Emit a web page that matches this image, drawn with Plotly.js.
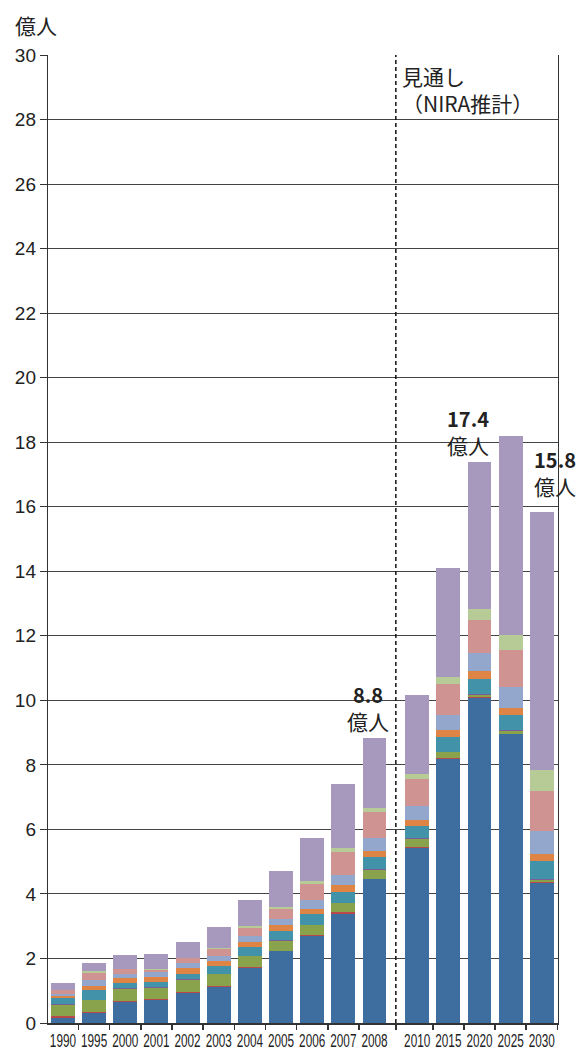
<!DOCTYPE html>
<html>
<head>
<meta charset="utf-8">
<script src="https://cdn.plot.ly/plotly-3.0.1.min.js"></script>
<style>html,body{margin:0;padding:0;background:#fff;}#chart{width:577px;height:1051px;}</style>
</head>
<body>
<div id="chart"></div>
<script>
// Categories (years); the first 11 are actuals, the rest are NIRA projections
const years = ['1990','1995','2000','2001','2002','2003','2004','2005','2006','2007','2008','2010','2015','2020','2025','2030'];
const projectionStart = 11;

// Series values (億人), bottom to top
const blue       = [0.17,0.32,0.65,0.70,0.94,1.13,1.70,2.22,2.71,3.39,4.45, 5.41,8.19,10.06,8.95,4.35];
const red        = [0.05,0.01,0.04,0.03,0.03,0.01,0.03,0.01,0.01,0.04,0.01, 0.03,0.03,0.04,0.01,0.03];
const green      = [0.35,0.38,0.35,0.37,0.35,0.37,0.34,0.31,0.31,0.28,0.28, 0.27,0.17,0.07,0.09,0.06];
const purple     = [0.01,0.01,0.03,0.03,0.03,0.01,0.01,0.03,0.01,0.01,0.03, 0.01,0.01,0.03,0.02,0.03];
const teal       = [0.19,0.30,0.18,0.15,0.17,0.25,0.27,0.28,0.34,0.34,0.37, 0.39,0.47,0.46,0.47,0.56];
const orange     = [0.08,0.135,0.15,0.15,0.17,0.16,0.15,0.18,0.16,0.21,0.19, 0.19,0.21,0.26,0.23,0.21];
const lightBlue  = [0.05,0.175,0.12,0.15,0.155,0.16,0.20,0.19,0.28,0.31,0.40, 0.43,0.47,0.55,0.64,0.72];
const pink       = [0.12,0.23,0.14,0.06,0.155,0.21,0.25,0.31,0.49,0.72,0.82, 0.84,0.95,1.02,1.15,1.23];
const lightGreen = [0.01,0.04,0.01,0.04,0.01,0.03,0.06,0.06,0.08,0.12,0.12, 0.15,0.22,0.34,0.46,0.65];
const lavender   = [0.22,0.245,0.43,0.47,0.50,0.65,0.80,1.12,1.35,2.00,2.17, 2.44,3.39,4.57,6.17,8.01];

// Total labels
const labelYears = ['2008','2020','2030'];
const labelTexts = ['8.8','17.4','15.8'];
const labelUnit = '億人';

// Text
const yUnit = '億人';
const projectionNote = '見通し<br>（NIRA推計）';

const seriesList = [
  {name:'系列1', v:blue,       c:'#3E6EA0'},
  {name:'系列2', v:red,        c:'#B9484A'},
  {name:'系列3', v:green,      c:'#88A34C'},
  {name:'系列4', v:purple,     c:'#7B5E98'},
  {name:'系列5', v:teal,       c:'#4292A9'},
  {name:'系列6', v:orange,     c:'#DE8444'},
  {name:'系列7', v:lightBlue,  c:'#93A6CB'},
  {name:'系列8', v:pink,       c:'#CF9392'},
  {name:'系列9', v:lightGreen, c:'#B7CB97'},
  {name:'系列10',v:lavender,   c:'#A799BD'}
];

const gap = 0.37;
const xpos = years.map((y,i) => i + (i >= projectionStart ? gap : 0));

const traces = seriesList.map(s => ({
  type:'bar', name:s.name, x:xpos, y:s.v, width:0.77,
  marker:{color:s.c, line:{width:0}}, hoverinfo:'y'
}));

const totals = years.map((y,i) => seriesList.reduce((a,s)=>a+s.v[i],0));

const dividerX = (xpos[projectionStart-1] + xpos[projectionStart]) / 2;
const minorTicks = [];
xpos.forEach((p,i) => { if (i < projectionStart) minorTicks.push(p - 0.5); });
minorTicks.push(dividerX);
xpos.slice(projectionStart).forEach(p => minorTicks.push(p + 0.5));

const numFont = 'Liberation Sans, Arial, Noto Sans CJK JP, sans-serif';
const jpFont = 'Noto Sans CJK JP, sans-serif';

const labelShifts = {'2008':[-7,0], '2020':[-11,0], '2030':[13,9]};
const annotations = labelYears.map((yr,k) => {
  const i = years.indexOf(yr);
  return {
    x:xpos[i], y:totals[i], xref:'x', yref:'y', showarrow:false,
    xanchor:'center', yanchor:'bottom',
    xshift:labelShifts[yr][0], yshift:labelShifts[yr][1],
    text:'<b><span style="font-size:20px">'+labelTexts[k]+'</span></b><br>'+labelUnit,
    font:{family:jpFont, size:21, color:'#222'}
  };
});
annotations.push({
  xref:'paper', yref:'paper', x:-0.068, y:1.031, xanchor:'left', yanchor:'middle',
  showarrow:false, text:yUnit, font:{family:jpFont, size:21, color:'#222'}
});
annotations.push({
  xref:'paper', yref:'paper', x:0.69, y:0.996, xanchor:'left', yanchor:'top', align:'left',
  showarrow:false, text:projectionNote, font:{family:jpFont, size:21, color:'#222'}
});

const layout = {
  width:577, height:1051,
  margin:{l:48, r:19, t:55, b:28},
  barmode:'stack', showlegend:false,
  paper_bgcolor:'#fff', plot_bgcolor:'#fff',
  xaxis:{
    range:[-0.48, xpos[xpos.length-1]+0.52],
    tickmode:'array', tickvals:xpos, ticktext:years, tickangle:0, automargin:false,
    ticks:'', showgrid:false, zeroline:false,
    showline:true, linecolor:'#333', linewidth:1.5,
    tickfont:{family:numFont, size:19, color:'#222'},
    minor:{tickmode:'array', tickvals:minorTicks, ticks:'outside', ticklen:5, tickwidth:1.5, tickcolor:'#333', showgrid:false},
    fixedrange:true
  },
  yaxis:{
    range:[0,30], dtick:2, tick0:0,
    ticks:'outside', ticklen:7, tickwidth:1, tickcolor:'#333',
    showgrid:true, gridcolor:'#444', gridwidth:1,
    zeroline:false, showline:true, linecolor:'#333', linewidth:1.2, mirror:true,
    tickfont:{family:numFont, size:19, color:'#222'},
    fixedrange:true
  },
  shapes:[{
    type:'line', xref:'x', yref:'paper', x0:dividerX, x1:dividerX, y0:0, y1:1,
    line:{color:'#111', width:1.5, dash:'4px,3px'}
  }],
  annotations:annotations
};

Plotly.newPlot('chart', traces, layout, {displayModeBar:false, staticPlot:true}).then(gd => {
  // condense the year labels horizontally, like the narrow face in the reference
  gd.querySelectorAll('.xtick text').forEach(t => {
    const bb = t.getBBox();
    const cx = bb.x + bb.width / 2;
    const prev = t.getAttribute('transform') || '';
    t.setAttribute('transform', prev + ' translate(' + cx + ',0) scale(0.62,1) translate(' + (-cx) + ',0)');
  });
});
</script>
</body>
</html>
